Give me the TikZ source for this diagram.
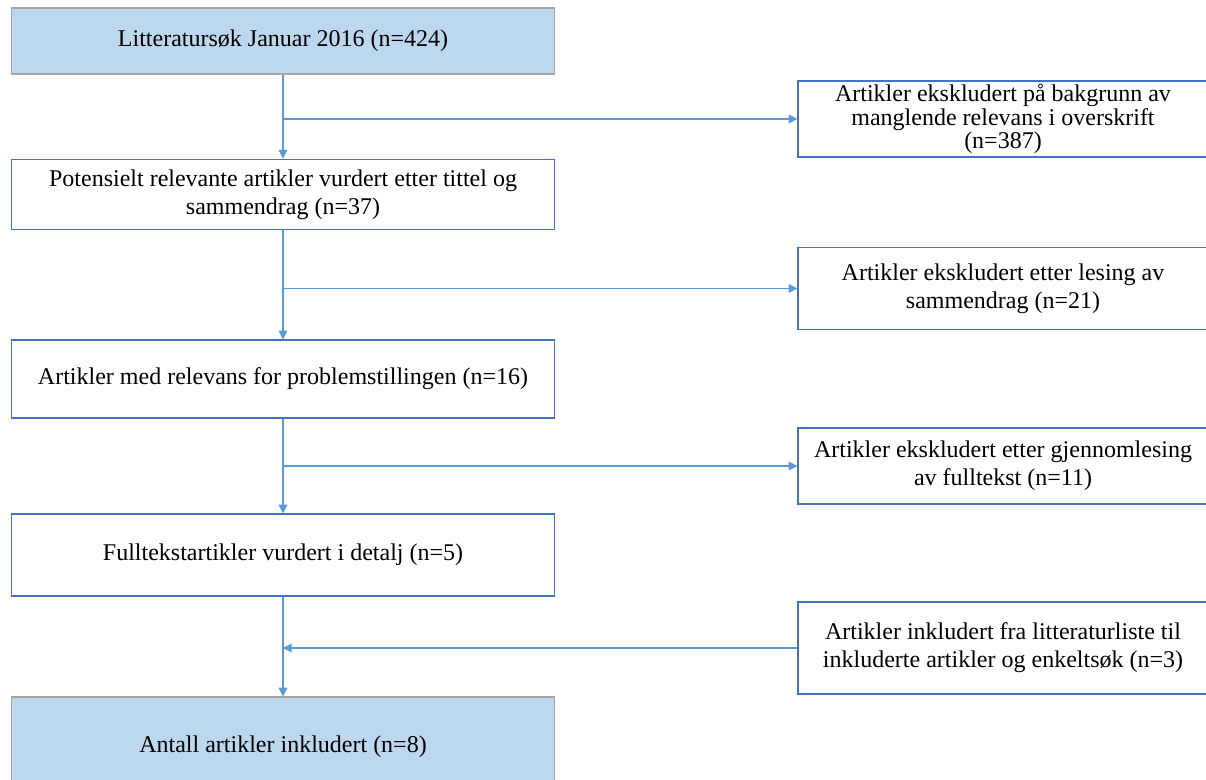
\documentclass[tikz,border=0pt]{standalone}
\usepackage{fontspec}
\setmainfont{Liberation Serif}
\usetikzlibrary{arrows.meta}

\definecolor{boxfill}{HTML}{BDD7EE}
\definecolor{boxblue}{HTML}{4472C4}
\definecolor{boxgray}{HTML}{A5A5A5}
\definecolor{linkblue}{HTML}{5B9BD5}

\tikzset{
  mainbox/.style={draw=boxblue,line width=0.9pt,fill=white,minimum width=407pt,inner sep=0pt,align=center},
  startbox/.style={mainbox,draw=boxgray,fill=boxfill},
  exbox/.style={draw=boxblue,line width=0.9pt,minimum width=307.5pt,inner sep=0pt,align=center},
  flow/.style={draw=linkblue,line width=0.8pt,-{Triangle[length=6.5pt,width=6.5pt]}}
}

\begin{document}
\begin{tikzpicture}[x=0.75pt,y=-0.75pt,font=\fontsize{18}{21}\selectfont]

\useasboundingbox (0,0) rectangle (1206,780);
\clip (0,0) rectangle (1206,780);

% left column
\node[startbox,minimum height=49.5pt] (lit) at (283,41) {Litteratursøk Januar 2016 (n=424)};
\node[mainbox,minimum height=53pt] (pot) at (283,194.5) {Potensielt relevante artikler vurdert etter tittel og\\ sammendrag (n=37)};
\node[mainbox,minimum height=58.5pt] (rel) at (283,379) {Artikler med relevans for problemstillingen (n=16)};
\node[mainbox,minimum height=61.5pt] (full) at (283,555) {Fulltekstartikler vurdert i detalj (n=5)};
\node[startbox,minimum height=75pt] (inc) at (283,747) {Antall artikler inkludert (n=8)};

% right column
\node[exbox,minimum height=57pt,font=\fontsize{18}{17.6}\selectfont] (ex1) at (1003,119) {Artikler ekskludert på bakgrunn av\\ manglende relevans i overskrift\\ (n=387)};
\node[exbox,minimum height=61pt] (ex2) at (1003,288.5) {Artikler ekskludert etter lesing av\\ sammendrag (n=21)};
\node[exbox,minimum height=57pt] (ex3) at (1003,466) {Artikler ekskludert etter gjennomlesing\\ av fulltekst (n=11)};
\node[exbox,minimum height=69pt] (ex4) at (1003,648) {Artikler inkludert fra litteraturliste til\\ inkluderte artikler og enkeltsøk (n=3)};

\draw[flow] (lit) -- (pot);
\draw[flow] (pot) -- (rel);
\draw[flow] (rel) -- (full);
\draw[flow] (full) -- (inc);

\draw[flow] (lit.south |- ex1.west) -- (ex1.west);
\draw[flow] (pot.south |- ex2.west) -- (ex2.west);
\draw[flow] (rel.south |- ex3.west) -- (ex3.west);
\draw[flow] (ex4.west) -- (full.south |- ex4.west);

\end{tikzpicture}
\end{document}
